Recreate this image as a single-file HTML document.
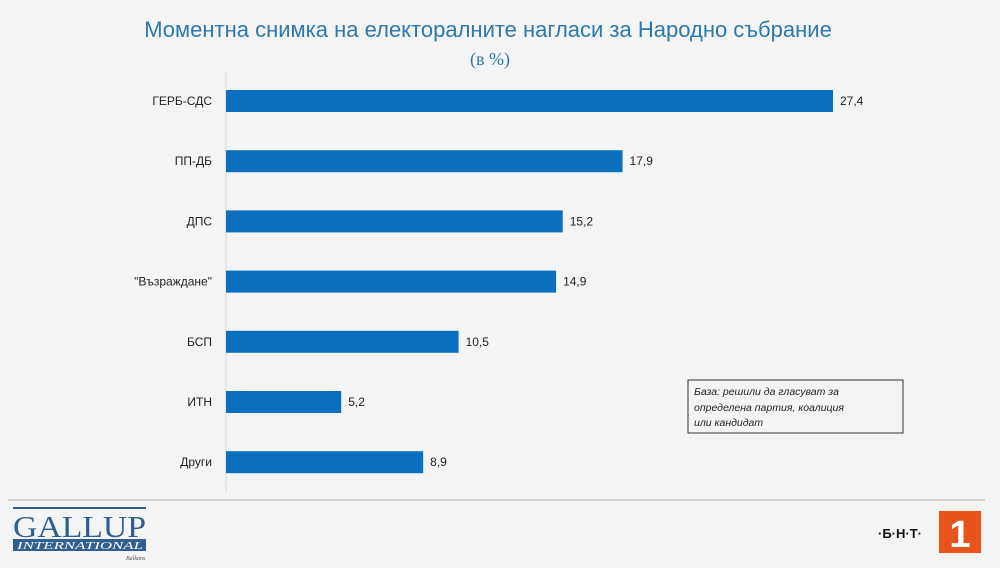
<!DOCTYPE html>
<html><head><meta charset="utf-8"><style>
body{margin:0;width:1000px;height:563px;background:#f4f4f4;overflow:hidden;font-family:"Liberation Sans","DejaVu Sans",sans-serif;}
</style></head><body>
<svg width="1000" height="563">
<rect width="1000" height="563" fill="#f4f4f4"/>
<text x="488" y="37" text-anchor="middle" font-size="22" fill="#2d78ad">Моментна снимка на електоралните нагласи за Народно събрание</text>
<text x="490" y="65" text-anchor="middle" font-size="18" fill="#2d78ad" font-family="Liberation Serif, serif">(в %)</text>
<line x1="226" y1="72" x2="226" y2="492" stroke="#d8d8d8" stroke-width="1"/>
<g id="bars"></g>
<rect x="688" y="380" width="215" height="53" fill="none" stroke="#333" stroke-width="1"/>
<text font-size="10.5" font-style="italic" fill="#222"><tspan x="694" y="395">База: решили да гласуват за</tspan><tspan x="694" y="411">определена партия, коалиция</tspan><tspan x="694" y="426">или кандидат</tspan></text>
<line x1="8" y1="500" x2="985" y2="500" stroke="#c8c8c8" stroke-width="1.5"/>
<g>
<rect x="13" y="507" width="133" height="2" fill="#2e5f8f"/>
<text x="13" y="537" font-family="Liberation Serif, serif" font-size="31" fill="#2e5f8f" textLength="133" lengthAdjust="spacingAndGlyphs">GALLUP</text>
<rect x="13" y="539" width="133" height="12" fill="#2e5f8f"/>
<text x="17" y="549" font-family="Liberation Serif, serif" font-size="11" font-style="italic" fill="#fff" textLength="126" lengthAdjust="spacingAndGlyphs">INTERNATIONAL</text>
<text x="126" y="560" font-family="Liberation Serif, serif" font-size="6" font-style="italic" fill="#555">Balkans</text>
</g>
<g>
<text x="878" y="538" font-size="13" font-weight="bold" fill="#111">·Б·Н·Т·</text>
<rect x="939" y="511" width="42" height="42" fill="#e8531c"/>
<text x="960" y="547" text-anchor="middle" font-size="38" font-weight="bold" fill="#fff">1</text>
</g>
</svg>
<script>
const categories=["ГЕРБ-СДС","ПП-ДБ","ДПС","\"Възраждане\"","БСП","ИТН","Други"];
const values=[27.4,17.9,15.2,14.9,10.5,5.2,8.9];
const labels=["27,4","17,9","15,2","14,9","10,5","5,2","8,9"];
const x0=226, scale=(833-226)/27.4;
const xs=v=>x0+v*scale;
const ys=i=>101+i*60.2;
const g=document.getElementById('bars');
const NS='http://www.w3.org/2000/svg';
categories.forEach((c,i)=>{
  const r=document.createElementNS(NS,'rect');
  r.setAttribute('x',x0);r.setAttribute('y',ys(i)-11);
  r.setAttribute('width',xs(values[i])-x0);r.setAttribute('height',22);
  r.setAttribute('fill','#0b6fc0');
  
  
  g.appendChild(r);
  const t=document.createElementNS(NS,'text');
  t.setAttribute('x',212);t.setAttribute('y',ys(i)+4);
  t.setAttribute('text-anchor','end');t.setAttribute('font-size','12');t.setAttribute('fill','#222');
  t.textContent=c;
  
  
  g.appendChild(t);
  const v=document.createElementNS(NS,'text');
  v.setAttribute('x',xs(values[i])+7);v.setAttribute('y',ys(i)+4);
  v.setAttribute('font-size','12');v.setAttribute('fill','#222');
  v.textContent=labels[i];
  
  
  g.appendChild(v);
});
</script>
</body></html>
